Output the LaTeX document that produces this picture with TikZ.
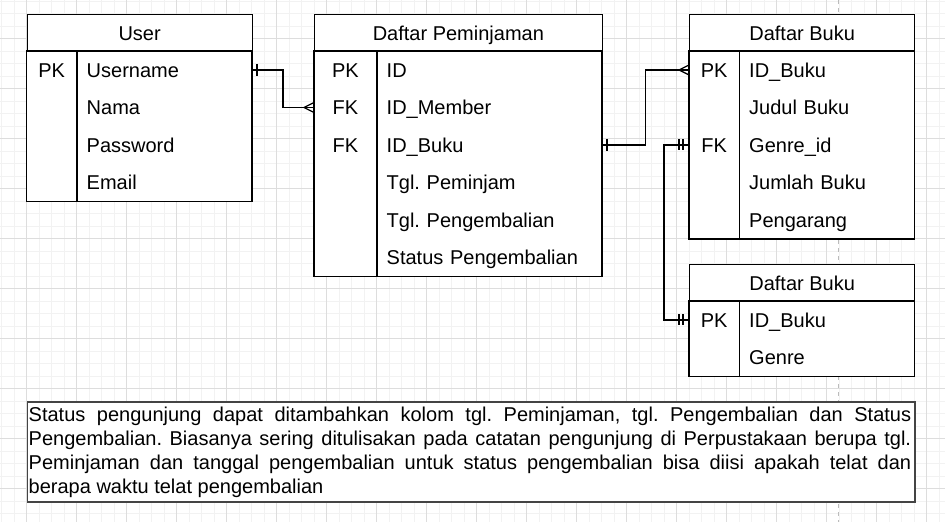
\documentclass[tikz,border=0pt]{standalone}
\usepackage{fontspec}
\setmainfont{Liberation Sans}
\usetikzlibrary{positioning}
\definecolor{gridminor}{HTML}{F2F2F2}
\definecolor{gridmajor}{HTML}{DDDDDD}
\definecolor{pagebreak}{HTML}{BBBBBB}
\definecolor{noteline}{HTML}{444444}
\frenchspacing

\tikzset{
  tbl/.style={draw,line width=1.25pt},
  hdr/.style={tbl,fill=white,anchor=north west,minimum height=37.5pt,inner sep=0pt,text height=14.3pt,text depth=0pt},
  keycell/.style={fill=white,anchor=north west,minimum width=#1,minimum height=37.5pt,inner sep=0pt,text height=14.3pt,text depth=0pt,align=center},
  fieldcell/.style={fill=white,anchor=north west,text width=#1,minimum height=37.5pt,inner xsep=10pt,inner ysep=0pt,text height=14.3pt,text depth=0pt,align=left},
  rel/.style={line width=1.25pt},
  notebox/.style={draw=noteline,fill=white,line width=1.8pt,anchor=north west,minimum width=887.5pt,minimum height=100pt,inner sep=0pt},
  notetext/.style={anchor=north west,inner sep=0pt,text width=882.5pt,align=justify},
}

\begin{document}
\begin{tikzpicture}[x=1pt,y=-1pt,font=\fontsize{20}{24}\selectfont]
\useasboundingbox (0,0) rectangle (945,522);
% grid
\foreach \x in {1.5,14,...,945}{\draw[gridminor,line width=1pt] (\x,0)--(\x,522);}
\foreach \y in {1,13.5,...,522}{\draw[gridminor,line width=1pt] (0,\y)--(945,\y);}
\foreach \x in {26.5,76.5,...,945}{\draw[gridmajor,line width=1pt] (\x,0)--(\x,522);}
\foreach \y in {38.5,88.5,...,522}{\draw[gridmajor,line width=1pt] (0,\y)--(945,\y);}
\draw[pagebreak,line width=1pt,dash pattern=on 4pt off 4pt] (838.5,0)--(838.5,522);

% User
\node[hdr,minimum width=225pt] (user) at (26.5,13.5) {User};
\foreach \k/\f [count=\i] in {PK/Username,/Nama,/Password,/Email}{
  \node[keycell=50pt] (uk\i) at (26.5,{13.5+37.5*\i}) {\k};
  \node[fieldcell=155pt] (uf\i) at (76.5,{13.5+37.5*\i}) {\f};
}
\draw[tbl] (uk1.north west) rectangle (uf4.south east);
\draw[tbl] (uk1.north east)--(uk4.south east);

% Daftar Peminjaman
\node[hdr,minimum width=287.5pt] (pinjam) at (314,13.5) {Daftar Peminjaman};
\foreach \k/\f [count=\i] in {PK/ID,FK/ID\_Member,FK/ID\_Buku,/Tgl. Peminjam,/Tgl. Pengembalian,/Status Pengembalian}{
  \node[keycell=62.5pt] (pk\i) at (314,{13.5+37.5*\i}) {\k};
  \node[fieldcell=205pt] (pf\i) at (376.5,{13.5+37.5*\i}) {\f};
}
\draw[tbl] (pk1.north west) rectangle (pf6.south east);
\draw[tbl] (pk1.north east)--(pk6.south east);

% Daftar Buku
\node[hdr,minimum width=225pt] (buku) at (689,13.5) {Daftar Buku};
\foreach \k/\f [count=\i] in {PK/ID\_Buku,/Judul Buku,FK/Genre\_id,/Jumlah Buku,/Pengarang}{
  \node[keycell=50pt] (bk\i) at (689,{13.5+37.5*\i}) {\k};
  \node[fieldcell=155pt] (bf\i) at (739,{13.5+37.5*\i}) {\f};
}
\draw[tbl] (bk1.north west) rectangle (bf5.south east);
\draw[tbl] (bk1.north east)--(bk5.south east);

% Daftar Buku (genre)
\node[hdr,minimum width=225pt] (genre) at (689,263.5) {Daftar Buku};
\foreach \k/\f [count=\i] in {PK/ID\_Buku,/Genre}{
  \node[keycell=50pt] (gk\i) at (689,{263.5+37.5*\i}) {\k};
  \node[fieldcell=155pt] (gf\i) at (739,{263.5+37.5*\i}) {\f};
}
\draw[tbl] (gk1.north west) rectangle (gf2.south east);
\draw[tbl] (gk1.north east)--(gk2.south east);

% relations
\draw[rel] (uf1.east)--++(31,0)|-(pk2.west);
\draw[rel] ([xshift=5pt,yshift=6pt]uf1.east)--([xshift=5pt,yshift=-6pt]uf1.east);
\draw[rel] ([yshift=5pt]pk2.west)--([xshift=-10pt]pk2.west)--([yshift=-5pt]pk2.west);

\draw[rel] (pf3.east)--++(43.5,0)|-(bk1.west);
\draw[rel] ([xshift=5pt,yshift=6pt]pf3.east)--([xshift=5pt,yshift=-6pt]pf3.east);
\draw[rel] ([yshift=5pt]bk1.west)--([xshift=-10pt]bk1.west)--([yshift=-5pt]bk1.west);

\draw[rel] (bk3.west)--++(-25,0)|-(gk1.west);
\foreach \s in {6,10}{
  \draw[rel] ([xshift=-\s pt,yshift=5.5pt]bk3.west)--([xshift=-\s pt,yshift=-5.5pt]bk3.west);
  \draw[rel] ([xshift=-\s pt,yshift=5.5pt]gk1.west)--([xshift=-\s pt,yshift=-5.5pt]gk1.west);
}

% note
\node[notebox] (note) at (26.5,401) {};
\node[notetext] (notetext) at (28.5,407) {\tolerance=9999\hyphenpenalty=10000
Status pengunjung dapat ditambahkan kolom tgl. Peminjaman, tgl. Pengembalian dan Status\linebreak
Pengembalian. Biasanya sering ditulisakan pada catatan pengunjung di Perpustakaan berupa tgl.\linebreak
Peminjaman dan tanggal pengembalian untuk status pengembalian bisa diisi apakah telat dan\linebreak
berapa waktu telat pengembalian};
\end{tikzpicture}
\end{document}
